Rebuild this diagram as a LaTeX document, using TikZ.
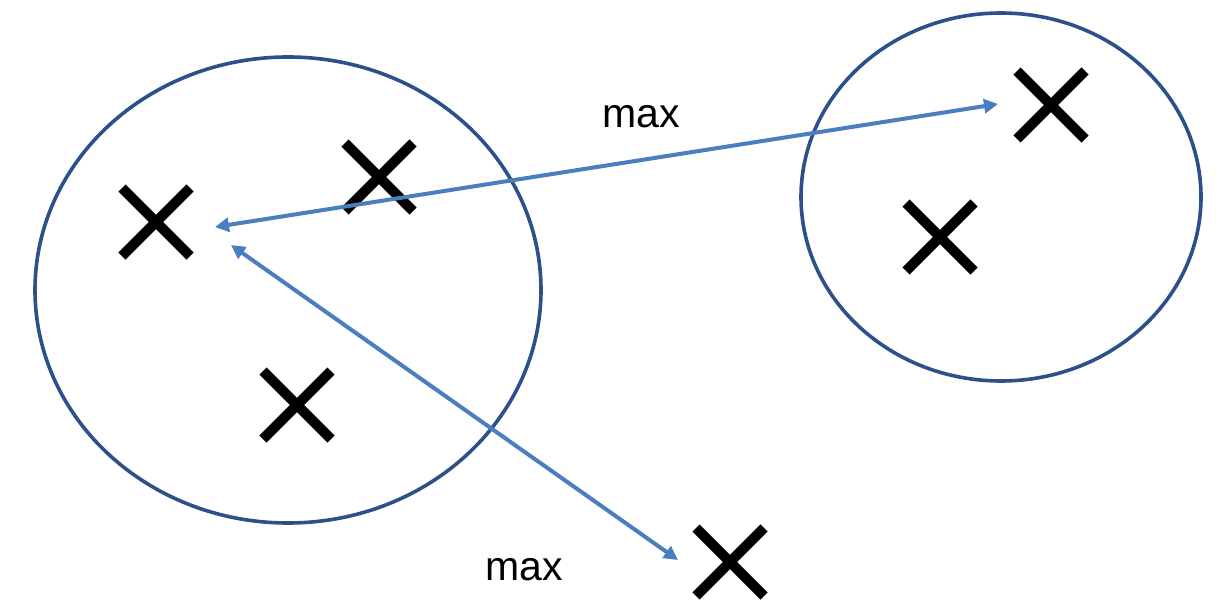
\documentclass[tikz,border=0pt]{standalone}
\usepackage{fontspec}
\setmainfont{Liberation Sans}
\usetikzlibrary{shapes.misc,shapes.geometric,arrows.meta}
\definecolor{ringblue}{HTML}{2C5089}
\definecolor{arrowblue}{HTML}{4A7EBF}
\tikzset{
  xmark/.style={cross out, draw=black, line width=5pt, minimum size=29pt, inner sep=0pt},
  ring/.style={ellipse, draw=ringblue, line width=1.8pt, inner sep=0pt},
  maxarrow/.style={draw=arrowblue, line width=2pt, {Triangle[length=7pt,width=7pt]}-{Triangle[length=7pt,width=7pt]}},
  lbl/.style={font=\fontsize{20.5}{24}\selectfont, inner sep=0pt}
}
\begin{document}
\begin{tikzpicture}[x=0.5pt,y=-0.5pt]
\useasboundingbox (0,0) rectangle (1232,605);
\node[ring, minimum width=253pt, minimum height=233pt] (left) at (288,290) {};
\node[ring, minimum width=200pt, minimum height=184pt] (right) at (1001,197) {};
\node[xmark] (c1) at (156,222) {};
\node[xmark] (c2) at (379,177) {};
\node[xmark] (c3) at (297,405) {};
\node[xmark] (c4) at (1051,105) {};
\node[xmark] (c5) at (940,237) {};
\node[xmark] (c6) at (730,562) {};
\draw[maxarrow] ([shift={(25,5)}]c1.east) -- ([shift={(-19,-1)}]c4.west);
\draw[maxarrow] ([shift={(41,23)}]c1.east) -- ([shift={(-18,-2)}]c6.west);
\node[lbl] (m1) at (641,117) {max};
\node[lbl] (m2) at (524,570) {max};
\end{tikzpicture}
\end{document}
